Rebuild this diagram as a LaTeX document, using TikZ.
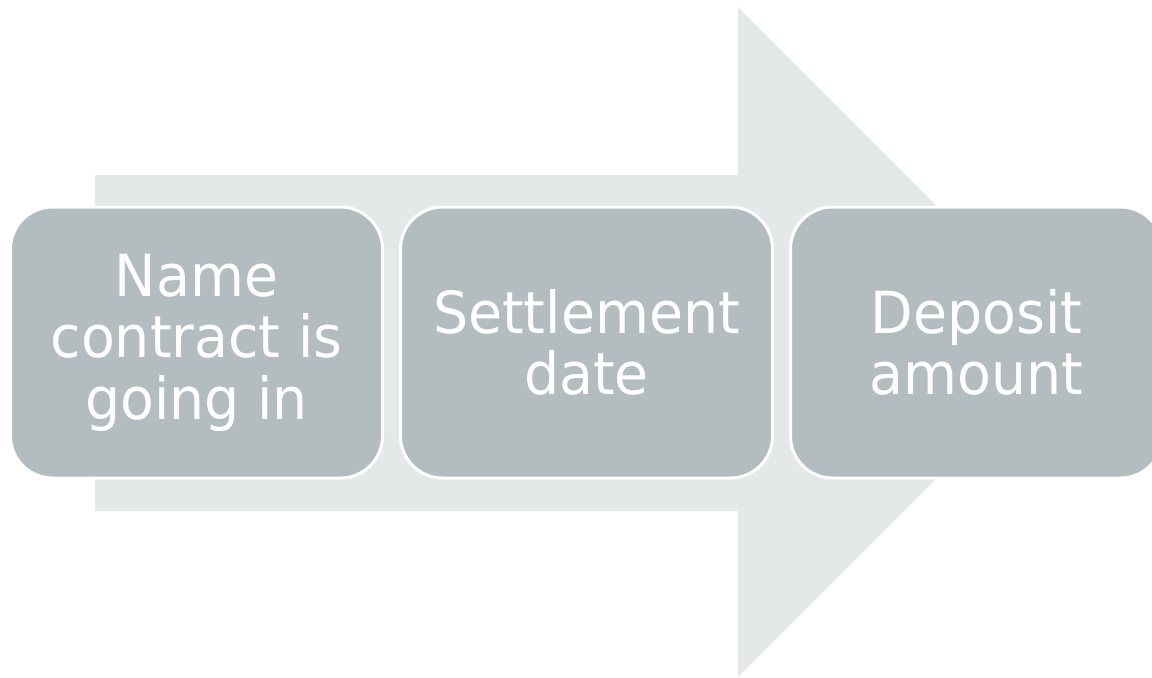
\documentclass[tikz,border=0pt]{standalone}
\usepackage{fontspec}
\setmainfont{DejaVu Sans}[FakeStretch=0.955]
\usetikzlibrary{positioning}

\definecolor{boxgray}{RGB}{179,189,192}
\definecolor{arrowgray}{RGB}{228,232,233}

\begin{document}
\begin{tikzpicture}[x=0.5pt, y=-0.5pt, node distance=1.0cm and 7.5pt]
\tikzstyle{stepbox}=[rectangle, rounded corners=21pt, draw=white, line width=1.5pt, fill=boxgray,
  minimum width=186pt, minimum height=135.5pt, align=center, text=white,
  font=\fontsize{29}{30.8}\selectfont]
\clip (0,0) rectangle (1152,677);
% big arrow behind the boxes
\fill[arrowgray] (95,175) -- (738,175) -- (738,7) -- (1073,342) -- (738,677) -- (738,511) -- (95,511) -- cycle;
\node[stepbox] (name) at (196.5,342.5) {Name\\contract is\\going in};
\node[stepbox, right=of name] (date) {Settlement\\date};
\node[stepbox, right=of date] (deposit) {Deposit\\amount};
\end{tikzpicture}
\end{document}
